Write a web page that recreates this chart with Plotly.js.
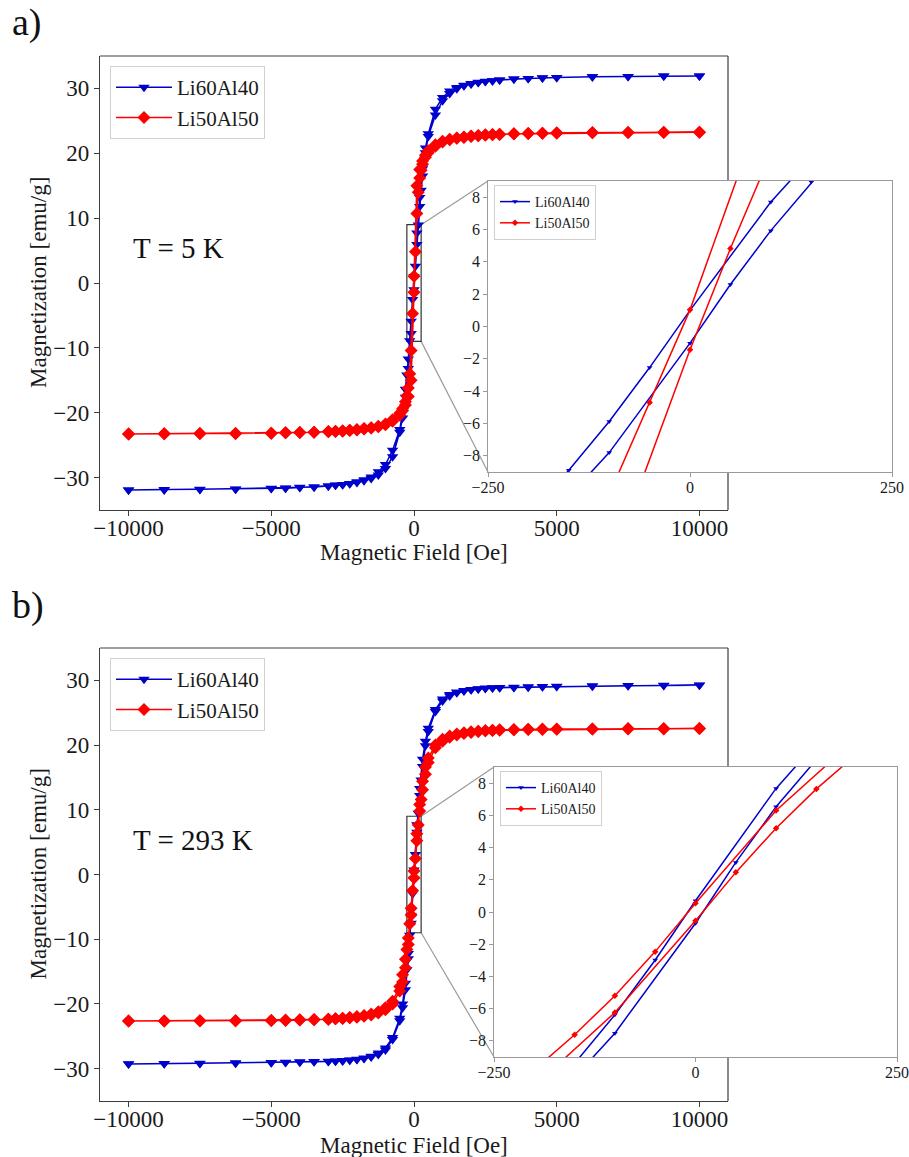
<!DOCTYPE html>
<html>
<head>
<meta charset="utf-8">
<script src="https://cdn.plot.ly/plotly-3.0.1.min.js"></script>
<style>html,body{margin:0;padding:0;background:#fff;}</style>
</head>
<body>
<div id="chart" style="width:909px;height:1157px;"></div>
<script>
// ---------- DATA ----------
// field steps of the descending branch (+10 kOe -> -10 kOe) and the ascending branch (-10 kOe -> +10 kOe)
const fieldDown = [10000, 8750, 7500, 6250, 5000, 4500, 4000, 3500, 3000, 2750, 2500, 2250, 2000, 1750, 1500, 1250, 1000, 750, 500, 400, 300, 200, 100, 0, -50, -100, -150, -200, -250, -300, -400, -500, -750, -1000, -1250, -1500, -1750, -2000, -2250, -2500, -2750, -3000, -3500, -4000, -4500, -5000, -6250, -7500, -8750, -10000];
const fieldUp = [-10000, -8750, -7500, -6250, -5000, -4500, -4000, -3500, -3000, -2750, -2500, -2250, -2000, -1750, -1500, -1250, -1000, -750, -500, -400, -300, -200, -100, 0, 50, 100, 150, 200, 250, 300, 400, 500, 750, 1000, 1250, 1500, 1750, 2000, 2250, 2500, 2750, 3000, 3500, 4000, 4500, 5000, 6250, 7500, 8750, 10000];

// a) T = 5 K
const a_Li60Al40_down = [31.9, 31.9, 31.85, 31.8, 31.7, 31.65, 31.55, 31.45, 31.3, 31.2, 31.1, 30.95, 30.75, 30.5, 30.15, 29.6, 28.6, 26.8, 23.0, 20.8, 17.6, 13.2, 7.7, 1.0, -2.54, -5.88, -8.89, -11.7, -14.2, -16.4, -20.0, -22.6, -25.8, -28.0, -29.1, -29.9, -30.35, -30.65, -30.9, -31.05, -31.15, -31.3, -31.45, -31.5, -31.6, -31.65, -31.75, -31.8, -31.85, -31.9];
const a_Li60Al40_up = [-31.9, -31.9, -31.85, -31.8, -31.7, -31.65, -31.55, -31.45, -31.3, -31.2, -31.1, -30.95, -30.75, -30.5, -30.15, -29.6, -28.6, -26.8, -23.0, -20.8, -17.6, -13.2, -7.8, -1.03, 2.6, 5.93, 8.95, 11.8, 14.3, 16.5, 20.1, 22.6, 25.9, 28.1, 29.2, 29.95, 30.4, 30.7, 30.9, 31.05, 31.2, 31.3, 31.45, 31.55, 31.6, 31.7, 31.8, 31.85, 31.9, 31.9];
const a_Li50Al50_down = [23.25, 23.2, 23.2, 23.15, 23.1, 23.1, 23.05, 23.0, 22.95, 22.9, 22.85, 22.75, 22.65, 22.5, 22.35, 22.15, 21.85, 21.3, 20.4, 19.7, 18.8, 17.5, 15.0, 1.03, -4.7, -10.4, -14.0, -16.2, -17.4, -18.3, -19.4, -20.1, -21.1, -21.75, -22.1, -22.3, -22.45, -22.6, -22.7, -22.8, -22.85, -22.9, -23.0, -23.05, -23.1, -23.15, -23.2, -23.2, -23.25, -23.3];
const a_Li50Al50_up = [-23.3, -23.25, -23.2, -23.2, -23.15, -23.1, -23.05, -23.0, -22.95, -22.9, -22.85, -22.75, -22.65, -22.5, -22.35, -22.15, -21.85, -21.3, -20.4, -19.7, -18.8, -17.5, -15.0, -1.44, 4.82, 10.7, 14.0, 16.2, 17.4, 18.3, 19.4, 20.1, 21.1, 21.75, 22.1, 22.3, 22.45, 22.6, 22.7, 22.8, 22.85, 22.9, 23.0, 23.05, 23.1, 23.15, 23.2, 23.2, 23.25, 23.25];

// b) T = 293 K
const b_Li60Al40_down = [29.3, 29.25, 29.2, 29.15, 29.1, 29.05, 29.0, 28.95, 28.9, 28.85, 28.8, 28.7, 28.6, 28.45, 28.2, 27.8, 27.1, 25.5, 22.6, 20.6, 17.8, 13.3, 7.67, 0.7, -2.98, -6.38, -9.4, -12.2, -14.7, -16.8, -20.0, -22.2, -25.2, -26.8, -27.6, -28.1, -28.35, -28.55, -28.65, -28.75, -28.8, -28.85, -28.9, -28.95, -29.0, -29.05, -29.1, -29.15, -29.2, -29.25];
const b_Li60Al40_up = [-29.3, -29.25, -29.2, -29.15, -29.1, -29.05, -29.0, -28.95, -28.9, -28.85, -28.8, -28.7, -28.6, -28.45, -28.2, -27.8, -27.1, -25.5, -22.6, -20.6, -17.8, -13.0, -7.52, -0.7, 3.08, 6.53, 9.46, 12.2, 14.6, 16.7, 19.9, 22.1, 25.2, 26.8, 27.6, 28.1, 28.35, 28.55, 28.65, 28.75, 28.8, 28.85, 28.9, 28.95, 29.0, 29.05, 29.1, 29.15, 29.2, 29.25];
const b_Li50Al50_down = [22.55, 22.5, 22.5, 22.5, 22.45, 22.4, 22.4, 22.35, 22.3, 22.25, 22.2, 22.15, 22.05, 21.9, 21.7, 21.4, 20.9, 20.0, 18.0, 16.6, 14.4, 10.8, 6.3, 0.54, -2.46, -5.2, -7.62, -9.8, -11.6, -13.1, -15.5, -17.3, -19.6, -20.6, -21.2, -21.55, -21.8, -21.95, -22.1, -22.2, -22.3, -22.35, -22.45, -22.5, -22.55, -22.55, -22.6, -22.6, -22.65, -22.65];
const b_Li50Al50_up = [-22.65, -22.65, -22.6, -22.6, -22.55, -22.5, -22.45, -22.4, -22.35, -22.3, -22.25, -22.15, -22.05, -21.9, -21.7, -21.4, -20.9, -20.0, -18.0, -16.6, -14.4, -10.8, -6.24, -0.54, 2.46, 5.2, 7.64, 9.8, 11.6, 13.1, 15.5, 17.3, 19.6, 20.6, 21.2, 21.55, 21.8, 21.95, 22.1, 22.2, 22.3, 22.35, 22.4, 22.45, 22.5, 22.5, 22.5, 22.55, 22.55, 22.55];

const seriesNames = ['Li60Al40', 'Li50Al50'];
const panelLabels = ['a)', 'b)'];
const tempLabels = ['T = 5 K', 'T = 293 K'];
const xTitle = 'Magnetic Field [Oe]';
const yTitle = 'Magnetization [emu/g]';
const mainXTicks = [-10000, -5000, 0, 5000, 10000];
const mainXTickText = ['\u221210000', '\u22125000', '0', '5000', '10000'];
const mainYTicks = [-30, -20, -10, 0, 10, 20, 30];
const insetXTicks = [-250, 0, 250];
const insetYTicks = [-8, -6, -4, -2, 0, 2, 4, 6, 8];
const mainXRange = [-11000, 11000];
const mainYRange = [-35, 35];
const insetXRange = [-250, 250];
const insetYRange = [-9, 9];

// ---------- STYLE / LAYOUT ----------
const W = 909, H = 1157;
const FONT = '"Liberation Serif", "Times New Roman", serif';
const BLUE = '#0000CD', RED = '#FF0000';
const TXT = '#1a1a1a';
const fx = v => v / W, fy = v => 1 - v / H;

// pixel boxes [left, top, right, bottom]
const boxes = {
  mainA: [100, 56, 728, 510],
  insetA: [488, 181, 892, 472],
  mainB: [100, 648, 728, 1101],
  insetB: [494, 767, 897, 1057]
};

const panels = [
  {down: [a_Li60Al40_down, a_Li50Al50_down], up: [a_Li60Al40_up, a_Li50Al50_up], main: boxes.mainA, inset: boxes.insetA, ax: ['', '2'], lg: ['legend', 'legend2'], labelY: 22, xTitleY: 552},
  {down: [b_Li60Al40_down, b_Li50Al50_down], up: [b_Li60Al40_up, b_Li50Al50_up], main: boxes.mainB, inset: boxes.insetB, ax: ['3', '4'], lg: ['legend3', 'legend4'], labelY: 605, xTitleY: 1145}
];

const traces = [];
const colors = [BLUE, RED];
const symbols = ['triangle-down', 'diamond'];
const xAll = fieldDown.concat(fieldUp);

panels.forEach((p) => {
  for (let s = 0; s < 2; s++) {
    traces.push({
      type: 'scatter', mode: 'lines+markers', name: seriesNames[s],
      x: xAll, y: p.down[s].concat(p.up[s]),
      xaxis: 'x' + p.ax[0], yaxis: 'y' + p.ax[0], legend: p.lg[0],
      line: {color: colors[s], width: 1.5},
      marker: {symbol: symbols[s], size: 10, color: colors[s], line: {width: 0}}
    });
  }
  for (let s = 0; s < 2; s++) {
    traces.push({
      type: 'scatter', mode: 'lines+markers', name: seriesNames[s],
      x: xAll, y: p.down[s].concat(p.up[s]),
      xaxis: 'x' + p.ax[1], yaxis: 'y' + p.ax[1], legend: p.lg[1],
      line: {color: colors[s], width: 1.5},
      marker: {symbol: symbols[s], size: 5, color: colors[s], line: {width: 0}}
    });
  }
});

const layout = {
  width: W, height: H, autosize: false,
  margin: {l: 0, r: 0, t: 0, b: 0},
  paper_bgcolor: '#ffffff', plot_bgcolor: 'rgba(0,0,0,0)',
  font: {family: FONT, color: TXT},
  showlegend: true,
  shapes: [], annotations: []
};

const AXC = '#3c3c3c', INC = '#9a9a9a';

panels.forEach((p, i) => {
  const m = p.main, n = p.inset;
  const mainXId = 'x' + p.ax[0], mainYId = 'y' + p.ax[0];
  layout['xaxis' + p.ax[0]] = {
    domain: [fx(m[0]), fx(m[2])], range: mainXRange, anchor: mainYId,
    tickmode: 'array', tickvals: mainXTicks, ticktext: mainXTickText,
    ticks: 'outside', ticklen: 5, tickwidth: 1, tickcolor: AXC, ticklabelstandoff: -8,
    showline: true, linecolor: AXC, linewidth: 1.2, showgrid: false, zeroline: false,
    tickfont: {family: FONT, size: 23, color: TXT}
  };
  layout['yaxis' + p.ax[0]] = {
    domain: [fy(m[3]), fy(m[1])], range: mainYRange, anchor: mainXId,
    tickvals: mainYTicks, ticks: 'outside', ticklen: 5, tickwidth: 1, tickcolor: AXC,
    showline: true, linecolor: AXC, linewidth: 1.2, showgrid: false, zeroline: false,
    tickfont: {family: FONT, size: 23, color: TXT}
  };
  layout['xaxis' + p.ax[1]] = {
    domain: [fx(n[0]), fx(n[2])], range: insetXRange, anchor: 'y' + p.ax[1],
    tickvals: insetXTicks, ticks: 'outside', ticklen: 3.5, tickwidth: 1, tickcolor: INC, ticklabelstandoff: -3,
    showline: true, mirror: true, linecolor: INC, linewidth: 1.2, showgrid: false, zeroline: false,
    tickfont: {family: FONT, size: 16, color: TXT}
  };
  layout['yaxis' + p.ax[1]] = {
    domain: [fy(n[3]), fy(n[1])], range: insetYRange, anchor: 'x' + p.ax[1],
    tickvals: insetYTicks, ticks: 'outside', ticklen: 3.5, tickwidth: 1, tickcolor: INC,
    showline: true, mirror: true, linecolor: INC, linewidth: 1.2, showgrid: false, zeroline: false,
    tickfont: {family: FONT, size: 16, color: TXT}
  };

  layout[p.lg[0]] = {
    x: fx(m[0] + 10), y: fy(m[1] + 10), xanchor: 'left', yanchor: 'top',
    bgcolor: '#ffffff', bordercolor: '#d0d0d0', borderwidth: 1,
    font: {family: FONT, size: 21, color: TXT}, itemwidth: 56, tracegroupgap: 0
  };
  layout[p.lg[1]] = {
    x: fx(n[0] + 6), y: fy(n[1] + 4), xanchor: 'left', yanchor: 'top',
    bgcolor: '#ffffff', bordercolor: '#d0d0d0', borderwidth: 1,
    font: {family: FONT, size: 14, color: TXT}, itemwidth: 30, tracegroupgap: 0
  };

  // main frame: top and right (right edge interrupted by the inset)
  layout.shapes.push({type: 'line', xref: 'paper', yref: 'paper', x0: fx(m[0]), x1: fx(m[2]), y0: fy(m[1]), y1: fy(m[1]), line: {color: AXC, width: 1.2}, layer: 'below'});
  layout.shapes.push({type: 'line', xref: 'paper', yref: 'paper', x0: fx(m[2]), x1: fx(m[2]), y0: fy(m[1]), y1: fy(n[1]), line: {color: AXC, width: 1.2}, layer: 'below'});
  layout.shapes.push({type: 'line', xref: 'paper', yref: 'paper', x0: fx(m[2]), x1: fx(m[2]), y0: fy(n[3]), y1: fy(m[3]), line: {color: AXC, width: 1.2}, layer: 'below'});

  // zoom indicator rectangle
  layout.shapes.push({type: 'rect', xref: mainXId, yref: mainYId, x0: insetXRange[0], x1: insetXRange[1], y0: insetYRange[0], y1: insetYRange[1], line: {color: '#333333', width: 1.2}, layer: 'below'});
  const toPx = (xv) => m[0] + (xv - mainXRange[0]) / (mainXRange[1] - mainXRange[0]) * (m[2] - m[0]);
  const toPy = (yv) => m[3] - (yv - mainYRange[0]) / (mainYRange[1] - mainYRange[0]) * (m[3] - m[1]);
  layout.shapes.push({type: 'line', xref: 'paper', yref: 'paper', x0: fx(toPx(insetXRange[1])), y0: fy(toPy(insetYRange[1])), x1: fx(n[0]), y1: fy(n[1]), line: {color: '#9a9a9a', width: 1.2}, layer: 'below'});
  layout.shapes.push({type: 'line', xref: 'paper', yref: 'paper', x0: fx(toPx(insetXRange[1])), y0: fy(toPy(insetYRange[0])), x1: fx(n[0]), y1: fy(n[3]), line: {color: '#9a9a9a', width: 1.2}, layer: 'below'});

  // texts
  layout.annotations.push({xref: 'paper', yref: 'paper', x: fx(10), y: fy(p.labelY), xanchor: 'left', yanchor: 'middle', showarrow: false, text: panelLabels[i], font: {family: FONT, size: 38, color: '#111'}});
  layout.annotations.push({xref: 'paper', yref: 'paper', x: fx(131), y: fy(m[1] + 192), xanchor: 'left', yanchor: 'middle', showarrow: false, text: tempLabels[i], font: {family: FONT, size: 29, color: '#111'}});
  layout.annotations.push({xref: 'paper', yref: 'paper', x: fx((m[0] + m[2]) / 2), y: fy(p.xTitleY), xanchor: 'center', yanchor: 'middle', showarrow: false, borderpad: 0, text: xTitle, font: {family: FONT, size: 23, color: TXT}});
  layout.annotations.push({xref: 'paper', yref: 'paper', x: fx(38), y: fy(toPy(0)), xanchor: 'center', yanchor: 'middle', showarrow: false, textangle: -90, text: yTitle, font: {family: FONT, size: 23, color: TXT}});
});

Plotly.newPlot('chart', traces, layout, {displayModeBar: false, staticPlot: true});
</script>
</body>
</html>
